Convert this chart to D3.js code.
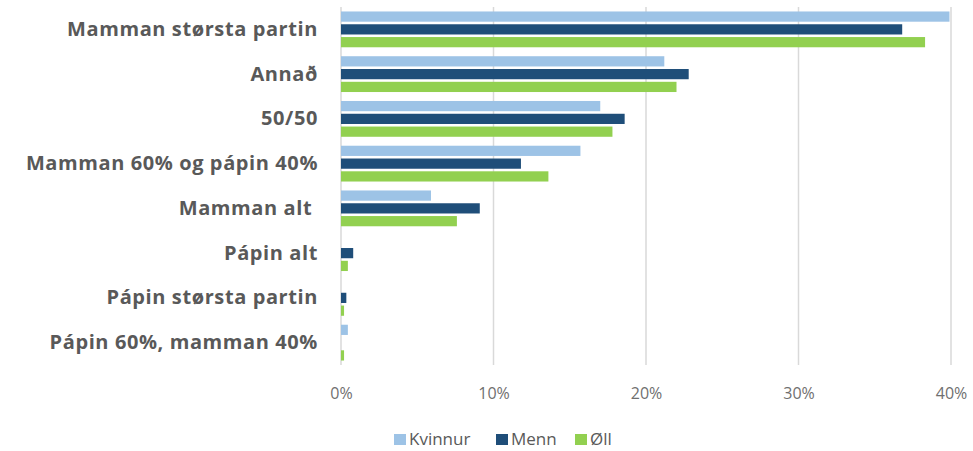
<!DOCTYPE html>
<html>
<head>
<meta charset="utf-8">
<script src="https://cdn.jsdelivr.net/npm/d3@7"></script>
<style>
  body { margin: 0; background: #fff; }
  text { font-family: "Open Sans", sans-serif; }
</style>
</head>
<body>
<div id="chart"></div>
<script>
// Data (percent)
const categories = [
  'Mamman størsta partin',
  'Annað',
  '50/50',
  'Mamman 60% og pápin 40%',
  'Mamman alt ',
  'Pápin alt',
  'Pápin størsta partin',
  'Pápin 60%, mamman 40%'
];
const seriesNames = ['Kvinnur', 'Menn', 'Øll'];
const kvinnur = [39.9, 21.2, 17.0, 15.7, 5.9, 0, 0, 0.45];
const menn    = [36.8, 22.8, 18.6, 11.8, 9.1, 0.8, 0.35, 0];
const oll     = [38.3, 22.0, 17.8, 13.6, 7.6, 0.45, 0.2, 0.2];
const ticks = [0, 10, 20, 30, 40];
const colors = ['#9DC3E6', '#1F4E79', '#92D050'];

const width = 973, height = 451;
const margin = { left: 341, right: 22, top: 7, bottom: 86 };

const svg = d3.select('#chart')
  .append('svg')
  .attr('width', width)
  .attr('height', height);

const x = d3.scaleLinear()
  .domain([0, 40])
  .range([margin.left, width - margin.right]);

const y = d3.scaleBand()
  .domain(categories)
  .range([margin.top, height - margin.bottom])
  .paddingInner(0.2)
  .paddingOuter(0.1);

const ySub = d3.scaleBand()
  .domain(seriesNames)
  .range([0, y.bandwidth()])
  .paddingInner(0.2);

// gridlines
svg.append('g')
  .selectAll('line')
  .data(ticks)
  .enter()
  .append('line')
  .attr('x1', d => x(d))
  .attr('x2', d => x(d))
  .attr('y1', margin.top)
  .attr('y2', height - margin.bottom)
  .attr('stroke', '#d9d9d9')
  .attr('stroke-width', 1.5);

const rows = categories.map((c, i) => ({
  cat: c,
  values: [kvinnur[i], menn[i], oll[i]]
}));

const groups = svg.append('g')
  .selectAll('g')
  .data(rows)
  .enter()
  .append('g')
  .attr('transform', d => `translate(0,${y(d.cat)})`);

groups.selectAll('rect')
  .data(d => d.values.map((v, j) => ({ name: seriesNames[j], value: v, j })))
  .enter()
  .append('rect')
  .attr('x', x(0))
  .attr('y', d => ySub(d.name))
  .attr('width', d => x(d.value) - x(0))
  .attr('height', ySub.bandwidth())
  .attr('fill', d => colors[d.j]);

// category labels
const yAxis = svg.append('g')
  .attr('transform', `translate(${margin.left - 23},0)`)
  .call(d3.axisLeft(y).tickSize(0).tickPadding(0));
yAxis.select('.domain').remove();
yAxis.selectAll('text')
  .attr('fill', '#595959')
  .style('font-size', '20px')
  .style('letter-spacing', '0.6px')
  .style('white-space', 'pre')
  .style('font-weight', 'bold');

// x axis labels
const xAxis = svg.append('g')
  .attr('transform', `translate(0,${height - margin.bottom + 20})`)
  .call(d3.axisBottom(x).tickValues(ticks).tickFormat(d => d + '%').tickSize(0));
xAxis.select('.domain').remove();
xAxis.selectAll('text')
  .attr('fill', '#6f6f6f')
  .style('font-size', '16px');

// legend
const legendX = [394, 496, 575];
const legend = svg.append('g')
  .selectAll('g')
  .data(seriesNames)
  .enter()
  .append('g')
  .attr('transform', (d, i) => `translate(${legendX[i]},434)`);
legend.append('rect')
  .attr('width', 12)
  .attr('height', 11)
  .attr('fill', (d, i) => colors[i]);
legend.append('text')
  .attr('x', 15)
  .attr('y', 11)
  .attr('fill', '#595959')
  .style('font-size', '17px')
  .text(d => d);
</script>
</body>
</html>
